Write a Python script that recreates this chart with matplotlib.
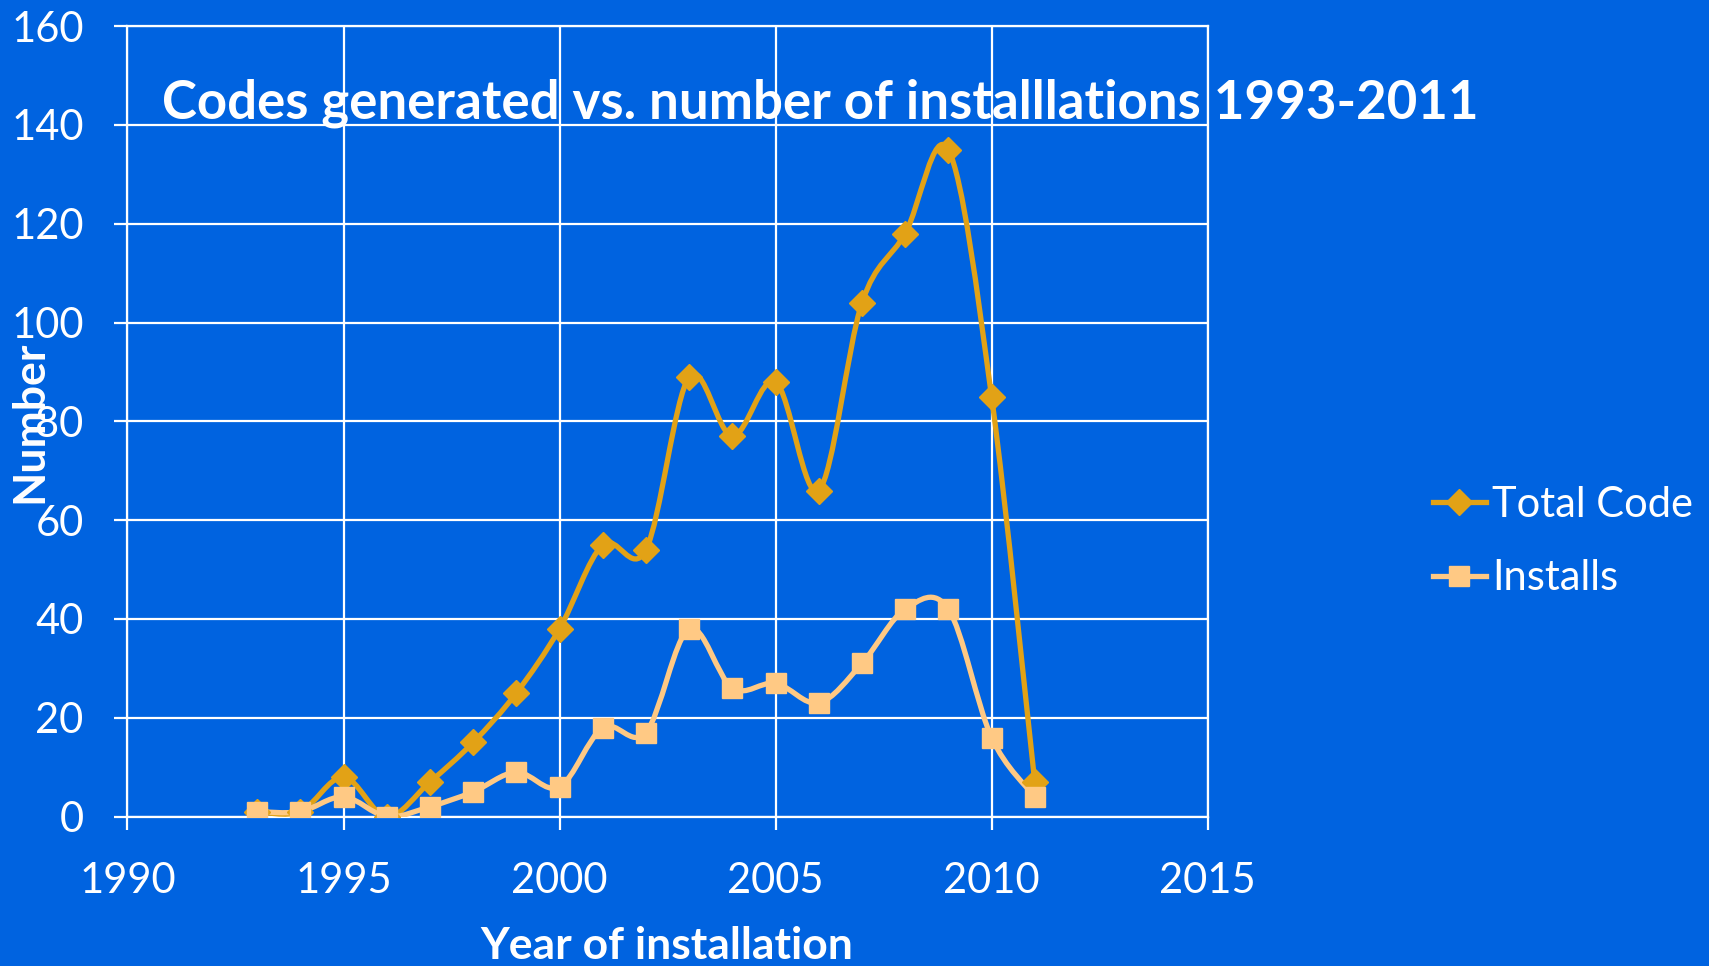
import numpy as np
import matplotlib
matplotlib.use("Agg")
import matplotlib.pyplot as plt
from matplotlib.path import Path
from matplotlib.patches import PathPatch
from matplotlib.lines import Line2D

years = [1993, 1994, 1995, 1996, 1997, 1998, 1999, 2000, 2001, 2002,
         2003, 2004, 2005, 2006, 2007, 2008, 2009, 2010, 2011]
total_code = [1, 1, 8, 0, 7, 15, 25, 38, 55, 54, 89, 77, 88, 66, 104, 118, 135, 85, 7]
installs = [1, 1, 4, 0, 2, 5, 9, 6, 18, 17, 38, 26, 27, 23, 31, 42, 42, 16, 4]
x_ticks = [1990, 1995, 2000, 2005, 2010, 2015]
y_ticks = [0, 20, 40, 60, 80, 100, 120, 140, 160]

BG = "#0063E0"
C_TOTAL = "#E2A216"
C_INST = "#FFC984"
FONT = "Lato"

plt.rcParams['font.family'] = [FONT, 'DejaVu Sans']

fig = plt.figure(figsize=(17.09, 9.66), dpi=100, facecolor=BG)
ax = fig.add_axes([0.0746, 0.1547, 0.6320, 0.8182])
ax.set_facecolor(BG)


def smooth_path(xs, ys):
    xs = np.asarray(xs, float)
    ys = np.asarray(ys, float)
    n = len(xs)
    verts = [(xs[0], ys[0])]
    codes = [Path.MOVETO]
    for i in range(n - 1):
        p0 = np.array([xs[max(i - 1, 0)], ys[max(i - 1, 0)]])
        p1 = np.array([xs[i], ys[i]])
        p2 = np.array([xs[i + 1], ys[i + 1]])
        p3 = np.array([xs[min(i + 2, n - 1)], ys[min(i + 2, n - 1)]])
        c1 = p1 + (p2 - p0) / 6.0
        c2 = p2 - (p3 - p1) / 6.0
        verts += [tuple(c1), tuple(c2), tuple(p2)]
        codes += [Path.CURVE4] * 3
    return Path(verts, codes)


for vals, col, mk, ms in [(total_code, C_TOTAL, 'D', 13),
                          (installs, C_INST, 's', 14)]:
    patch = PathPatch(smooth_path(years, vals), facecolor='none', edgecolor=col,
                      lw=3.8, capstyle='round', joinstyle='round', zorder=3)
    ax.add_patch(patch)
    ax.plot(years, vals, linestyle='none', marker=mk, markersize=ms,
            color=col, zorder=4)

ax.set_xlim(1990, 2015)
ax.set_ylim(0, 160)
ax.set_xticks(x_ticks)
ax.set_yticks(y_ticks)
ax.grid(True, color='white', lw=1.6, zorder=1)
for s in ax.spines.values():
    s.set_color('white')
    s.set_linewidth(1.6)
ax.tick_params(colors='white', length=9.5, width=1.6, labelsize=30)
ax.tick_params(axis='x', pad=23)
ax.tick_params(axis='y', pad=22)
for lab in ax.get_xticklabels() + ax.get_yticklabels():
    lab.set_color('white')

fig.text(0.480, 0.893, "Codes generated vs. number of installlations 1993-2011",
         color='white', fontsize=38, fontweight='bold', ha='center', va='center')
fig.text(0.390, 0.021, "Year of installation", color='white', fontsize=32,
         fontweight='bold', ha='center', va='center')
fig.text(0.017, 0.563, "Number", color='white', fontsize=32, fontweight='bold',
         ha='center', va='center', rotation=90)

handles = [Line2D([], [], color=C_TOTAL, lw=3.8, marker='D', markersize=13),
           Line2D([], [], color=C_INST, lw=3.8, marker='s', markersize=14)]
leg = fig.legend(handles, ["Total Code", "Installs"], loc='center left',
                 bbox_to_anchor=(0.829, 0.4395), frameon=False, fontsize=30,
                 handlelength=1.25, handletextpad=0.15, labelspacing=0.85,
                 labelcolor='white', borderaxespad=0)

fig.savefig("out.png", dpi=100, facecolor=BG)
